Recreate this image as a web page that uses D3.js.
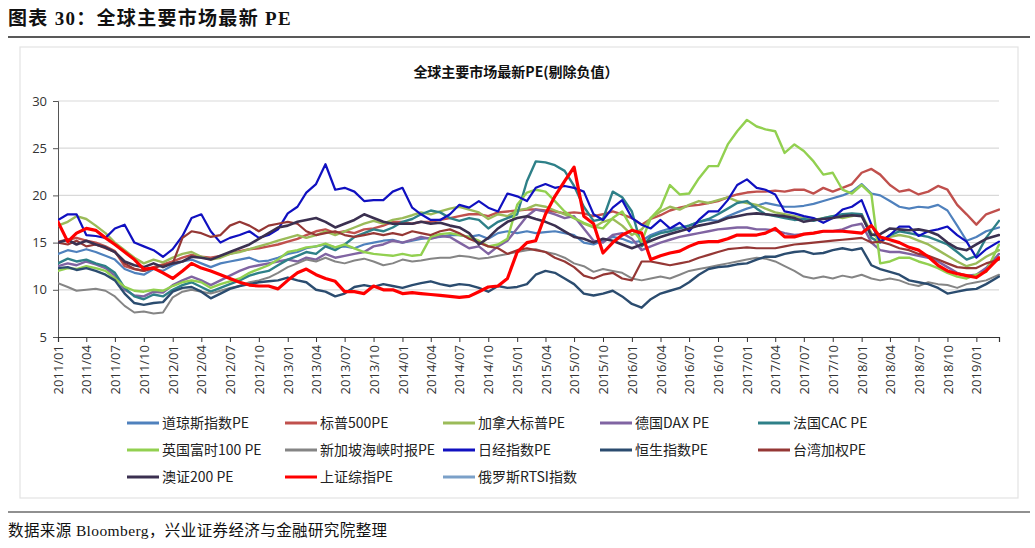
<!DOCTYPE html>
<html><head><meta charset="utf-8">
<script src="https://cdn.jsdelivr.net/npm/d3@7"></script>
<style>body{margin:0;background:#fff;} svg{display:block}</style>
</head><body><svg id="c" width="1035" height="548"></svg>
<script>
// ---------- DATA ----------
const startDate = new Date(2011, 0, 1);
const lastDate = new Date(2019, 2, 14);
const dates = d3.timeMonth.range(startDate, new Date(2019, 2, 1)).concat([lastDate]);
const yTicks = [5, 10, 15, 20, 25, 30];

const seriesNames = ["道琼斯指数PE","标普500PE","加拿大标普PE","德国DAX PE","法国CAC PE",
  "英国富时100 PE","新加坡海峡时报PE","日经指数PE","恒生指数PE","台湾加权PE",
  "澳证200 PE","上证综指PE","俄罗斯RTSI指数"];

const dow = [
13.8,14.2,14.0,14.3,14.0,13.6,13.2,12.2,11.8,11.6,12.2,12.0,
12.6,13.0,13.2,12.8,12.4,12.8,13.0,13.2,13.4,13.0,13.1,13.4,
13.8,14.0,14.4,14.6,14.8,14.5,14.6,14.4,14.8,15.0,15.2,15.3,
15.0,15.2,15.4,15.5,15.6,15.8,15.8,15.6,15.8,15.4,16.0,16.2,
16.0,16.2,16.0,16.1,16.2,16.0,15.8,15.0,14.8,15.2,15.6,15.4,
15.0,15.2,15.8,16.2,16.5,16.6,16.8,17.2,17.4,17.3,17.8,18.2,
18.6,18.9,19.2,19.0,18.8,18.8,18.9,19.1,19.4,19.7,20.0,20.4,
21.2,20.2,20.0,19.4,18.8,18.6,18.8,18.7,19.0,18.4,16.8,15.2,
15.6,16.2,16.6];
const spx = [
15.1,15.3,15.5,15.2,15.0,14.6,14.1,12.5,12.2,12.0,12.4,12.7,
13.0,13.4,13.7,13.5,13.4,13.6,13.8,14.1,14.3,14.4,14.6,14.8,
15.1,15.4,15.8,16.2,16.4,16.0,16.2,16.0,16.4,16.5,16.8,17.2,
17.2,17.0,17.2,17.2,17.4,17.6,17.8,18.0,18.0,17.8,18.2,18.3,
18.4,18.5,18.5,18.4,18.3,18.1,18.2,18.1,17.8,18.0,18.3,18.0,
17.6,16.9,17.5,17.9,18.4,18.7,18.9,19.0,19.2,19.4,19.8,20.1,
20.3,20.4,20.4,20.5,20.4,20.6,20.6,20.2,20.8,20.4,20.8,21.2,
22.4,22.8,22.2,21.1,20.4,20.6,20.1,20.4,21.0,20.6,19.0,18.0,
16.9,18.0,18.5];
const canada = [
16.8,17.2,17.8,17.5,16.8,16.0,15.0,14.2,13.4,12.8,13.2,12.9,
13.4,13.8,14.0,13.5,13.2,13.4,13.8,14.0,14.3,14.6,14.9,15.2,
15.5,15.8,15.5,15.8,16.2,15.8,16.2,16.6,17.0,17.3,17.0,17.4,
17.6,17.9,18.2,18.0,18.3,18.6,18.8,18.5,18.2,17.5,18.0,17.8,
18.4,18.6,19.0,18.8,18.4,18.0,17.6,17.0,16.6,17.2,17.5,16.8,
15.8,16.4,17.6,18.3,18.8,18.5,19.0,19.4,19.2,19.5,19.8,19.4,
19.2,19.0,18.6,18.2,18.0,17.8,17.6,17.4,17.6,17.8,17.6,17.8,
18.0,16.0,15.3,15.6,15.8,15.6,15.2,14.8,14.2,13.6,13.0,12.5,
12.8,13.5,14.2];
const dax = [
12.5,12.8,12.6,13.0,12.7,12.3,11.5,10.0,9.4,9.3,9.8,9.7,
10.5,11.0,11.4,11.0,10.5,11.0,11.5,12.0,12.4,12.6,12.8,13.0,
13.2,13.0,13.4,13.2,13.8,13.4,13.6,13.8,14.0,14.6,14.8,15.2,
15.0,15.3,15.6,15.4,15.7,15.6,15.0,14.4,14.6,13.8,14.6,15.2,
16.5,17.8,18.5,18.3,18.0,17.6,17.8,16.5,15.2,15.0,15.8,16.0,
15.4,14.2,14.6,15.0,15.3,15.6,15.8,16.0,16.2,16.4,16.5,16.6,
16.6,16.4,16.4,16.3,16.0,15.8,15.9,16.0,16.2,16.2,16.4,16.8,
17.0,15.0,14.2,14.0,14.0,13.8,13.6,13.4,13.0,12.4,11.8,11.5,
11.6,12.3,13.8];
const cac = [
12.8,13.3,13.0,13.2,12.8,12.5,11.8,10.2,9.3,9.0,9.5,9.3,
10.0,10.5,10.8,10.3,9.8,10.2,10.6,11.0,11.5,11.8,12.0,12.6,
13.2,13.6,14.0,13.8,14.6,14.2,14.8,15.6,16.0,16.4,16.2,16.6,
17.2,17.5,18.0,18.4,18.2,17.6,17.3,17.6,17.4,16.5,17.2,17.6,
18.0,21.5,23.6,23.5,23.2,22.6,21.0,18.8,17.3,17.5,20.4,19.8,
18.3,14.6,15.6,16.0,16.2,16.5,16.8,17.2,17.5,18.0,18.6,19.2,
19.4,18.6,18.0,17.8,17.6,17.4,17.5,17.3,17.6,17.8,18.0,18.1,
18.0,15.5,15.0,15.8,16.2,16.0,15.8,15.6,15.2,14.8,14.0,13.2,
13.6,15.5,17.3];
const ftse = [
12.0,12.3,12.2,12.5,12.3,12.0,11.2,10.3,9.9,9.8,10.0,9.9,
10.4,10.8,11.0,10.8,10.2,10.6,10.9,11.2,11.8,12.2,12.6,13.2,
14.0,14.2,14.5,14.6,14.9,14.5,14.8,14.4,14.0,13.8,13.7,13.6,
13.8,13.6,13.7,15.6,15.9,16.0,15.8,15.6,15.2,14.6,14.8,15.4,
19.0,20.3,20.6,20.4,19.4,18.3,17.6,17.1,16.7,16.5,17.6,18.3,
16.5,15.1,17.6,18.7,21.1,20.1,20.2,21.8,23.1,23.1,25.4,26.8,
28.0,27.3,27.0,26.8,24.5,25.4,24.7,23.6,22.2,22.4,20.6,20.2,
21.1,20.1,12.8,13.0,13.4,13.4,13.0,12.7,12.3,11.8,11.4,11.2,
11.6,11.9,14.8];
const sti = [
10.7,10.3,9.9,10.0,10.1,9.9,9.3,8.3,7.6,7.7,7.5,7.6,
9.2,9.8,10.0,9.8,9.6,9.9,10.2,10.4,10.8,11.0,11.3,11.8,
12.4,12.8,13.2,13.0,13.4,13.0,12.8,13.1,13.3,13.0,12.6,12.8,
13.2,13.0,13.1,13.3,13.4,13.4,13.6,13.5,13.3,13.4,13.6,13.8,
14.0,14.2,14.3,14.0,13.8,13.4,12.8,12.5,11.9,12.2,12.0,11.8,
11.2,11.0,11.2,11.4,11.2,11.6,12.0,12.2,12.4,12.6,12.8,13.0,
13.2,13.4,13.3,13.0,12.5,12.0,11.4,11.2,11.4,11.2,11.5,11.3,
11.6,11.2,11.0,11.2,11.0,10.6,10.4,10.8,10.6,10.5,10.2,10.6,
10.8,11.0,11.6];
const nikkei = [
17.4,18.0,18.0,15.8,15.7,15.5,16.5,16.9,15.0,14.6,14.2,13.5,
14.3,15.7,17.6,18.0,16.2,15.0,15.5,15.8,16.2,15.5,15.8,16.4,
18.1,18.8,20.3,21.2,23.3,20.6,20.8,20.4,19.4,19.5,19.5,20.4,
20.8,18.7,18.0,17.4,17.4,18.0,19.0,18.7,19.4,18.7,18.3,20.2,
19.9,19.4,20.8,21.2,20.8,21.0,20.8,20.4,18.0,17.4,18.7,19.5,
17.6,16.9,16.5,17.4,16.5,17.1,16.2,17.4,18.3,18.3,19.5,21.1,
21.7,20.8,20.6,20.1,18.3,18.1,17.8,17.6,17.1,17.6,18.5,18.8,
19.5,16.9,15.1,15.8,16.7,16.7,15.7,16.2,16.4,16.7,15.8,15.1,
13.4,14.3,15.1];
const hsi = [
12.3,12.4,12.1,12.3,12.0,11.6,11.0,9.6,8.6,8.4,8.6,8.7,
9.8,10.2,10.3,9.8,9.1,9.6,10.1,10.4,10.6,10.8,10.9,11.0,
11.3,11.0,10.8,10.0,9.8,9.3,9.6,10.3,10.5,10.3,10.6,10.4,
10.2,10.5,10.7,10.9,10.6,10.4,10.6,10.5,10.2,9.8,10.4,10.2,
10.3,10.6,11.6,12.0,11.8,11.2,10.6,9.6,9.4,9.6,9.9,9.3,
8.5,8.1,9.0,9.6,9.9,10.2,10.8,11.6,12.2,12.4,12.5,12.7,
12.8,13.2,13.5,13.5,13.8,14.0,14.1,13.8,13.9,14.2,14.4,14.2,
14.4,12.6,12.2,11.9,11.6,11.0,10.8,10.6,10.2,9.6,9.8,10.0,
10.1,10.6,11.4];
const taiwan = [
15.0,14.8,15.2,14.6,14.8,14.4,14.0,12.8,12.2,12.0,12.3,12.6,
12.8,15.5,16.2,16.0,15.6,15.8,16.8,17.2,16.8,16.2,16.8,17.0,
17.2,17.0,16.2,15.8,16.0,16.2,15.8,15.6,15.8,16.0,15.8,16.0,
15.8,16.2,16.0,15.8,16.2,16.4,16.0,15.4,15.0,14.6,14.4,13.8,
14.2,14.4,14.2,14.0,13.4,13.0,12.4,11.5,11.2,11.6,11.8,11.2,
11.0,13.0,13.0,12.8,12.6,12.8,13.0,13.4,13.7,14.0,14.3,14.4,
14.5,14.4,14.4,14.4,14.6,14.8,14.9,15.0,15.1,15.2,15.3,15.4,
15.5,15.0,15.1,14.8,14.4,14.2,13.8,13.6,13.2,12.8,12.4,12.3,
12.3,12.8,13.2];
const asx = [
15.0,15.3,14.8,15.2,14.8,14.5,14.0,13.0,12.6,12.4,12.8,12.4,
12.8,13.0,13.5,13.4,13.2,13.6,14.0,14.4,14.8,15.4,16.0,16.6,
16.8,17.2,17.4,17.6,17.2,16.6,17.0,17.4,18.0,17.6,17.2,17.0,
17.0,17.0,17.2,17.0,17.1,16.8,16.6,16.0,14.8,15.5,16.5,17.2,
17.6,17.8,17.5,17.2,16.8,16.2,15.6,15.4,15.0,15.4,15.2,14.8,
14.4,14.8,15.2,15.6,15.9,16.2,16.5,16.8,17.0,17.2,17.6,17.8,
18.0,18.1,18.0,17.9,17.8,17.6,17.2,17.4,17.5,17.6,17.8,17.9,
17.8,15.8,15.9,16.5,16.4,16.3,16.4,16.2,15.8,15.0,14.4,14.2,
14.8,15.4,15.8];
const shcomp = [
17.2,15.1,16.0,16.5,16.3,15.5,14.8,14.0,13.2,12.2,12.3,11.8,
11.2,12.0,12.8,12.3,12.0,11.6,11.2,10.8,10.5,10.4,10.4,10.1,
11.0,11.8,12.2,11.6,11.2,10.9,9.8,9.8,9.6,10.4,10.0,10.0,
9.6,9.7,9.6,9.5,9.4,9.3,9.2,9.3,9.8,10.3,10.4,11.2,
14.0,15.0,15.2,18.0,19.9,21.5,23.0,17.8,17.0,13.9,15.0,15.8,
16.3,16.0,13.2,13.6,13.9,14.1,14.6,15.0,15.1,15.1,15.4,15.8,
15.8,15.8,16.0,16.5,15.6,15.6,15.9,16.0,16.2,16.2,16.2,16.1,
16.0,16.8,15.6,15.3,15.0,14.5,14.2,13.5,12.6,12.0,11.7,11.5,
11.3,12.0,13.4];
const rtsi = [];

const seriesValues = [dow, spx, canada, dax, cac, ftse, sti, nikkei, hsi, taiwan, asx, shcomp, rtsi];

// ---------- STYLE ----------
const colors = ["#4F81BD","#C0504D","#9BBB59","#8064A2","#2E8088","#92D050","#858585",
  "#1010C0","#2B4C6F","#953735","#3B3050","#FF0000","#7BA0C8"];
const widths = [2.2,2.4,2.4,2.4,2.4,2.4,2,2.2,2.4,2.2,2.6,3.2,2.2];

const svg = d3.select("#c");
const plot = {l: 58, r: 999, t: 101, b: 337};
const cjk = '"Noto Sans CJK SC", "Noto Sans", sans-serif';
const serif = '"Liberation Serif", "Noto Sans CJK SC", serif';

// header
svg.append("text").attr("x", 8).attr("y", 25)
  .attr("font-family", serif).attr("font-size", 19).attr("font-weight", "bold")
  .attr("letter-spacing", 1.3).attr("fill", "#111")
  .text("图表 30：全球主要市场最新 PE");
svg.append("line").attr("x1", 8).attr("x2", 1030).attr("y1", 37).attr("y2", 37)
  .attr("stroke", "#222").attr("stroke-width", 1.3);

// chart frame
svg.append("rect").attr("x", 20).attr("y", 47).attr("width", 998).attr("height", 451)
  .attr("fill", "#fff").attr("stroke", "#e3e3e3").attr("stroke-width", 1.2);

svg.append("text").attr("x", 516).attr("y", 77).attr("text-anchor", "middle")
  .attr("font-family", cjk).attr("font-size", 14).attr("font-weight", "bold").attr("fill", "#111")
  .text("全球主要市场最新PE(剔除负值）");

// scales
const x = d3.scaleTime().domain([startDate, lastDate]).range([plot.l, plot.r]);
const y = d3.scaleLinear().domain([5, 30]).range([plot.b, plot.t]);

// grid
svg.append("g").selectAll("line").data(yTicks.filter(v => v > 5)).join("line")
  .attr("x1", plot.l).attr("x2", plot.r).attr("y1", d => y(d)).attr("y2", d => y(d))
  .attr("stroke", "#d9d9d9").attr("stroke-width", 1.2);

// y axis
const yAxis = svg.append("g").attr("transform", `translate(${plot.l},0)`)
  .call(d3.axisLeft(y).tickValues(yTicks).tickSize(5).tickPadding(6));
yAxis.select(".domain").attr("stroke", "#555");
yAxis.selectAll(".tick line").attr("stroke", "#555");
yAxis.selectAll("text").attr("font-family", '"Open Sans", sans-serif').attr("font-size", 13).attr("fill", "#333");

// x axis
const xTicks = d3.timeMonth.every(3).range(startDate, new Date(2019, 0, 2));
const xAxis = svg.append("g").attr("transform", `translate(0,${plot.b})`)
  .call(d3.axisBottom(x).tickValues(xTicks).tickSize(5).tickFormat(d3.timeFormat("%Y/%m")));
xAxis.select(".domain").attr("stroke", "#333").attr("stroke-width", 1.2);
xAxis.selectAll(".tick line").attr("stroke", "#333");
xAxis.selectAll("text")
  .attr("font-family", '"Open Sans", sans-serif').attr("font-size", 13).attr("fill", "#333")
  .attr("text-anchor", "end").attr("transform", "rotate(-90)")
  .attr("x", -8).attr("y", 0).attr("dy", "0.35em");

// lines
svg.append("clipPath").attr("id", "clip").append("rect")
  .attr("x", plot.l).attr("y", plot.t - 2).attr("width", plot.r - plot.l + 1).attr("height", plot.b - plot.t + 2);
const line = d3.line().x(d => x(d.date)).y(d => y(d.v));
const lg = svg.append("g").attr("clip-path", "url(#clip)");
seriesValues.forEach((vals, i) => {
  if (!vals.length) return;
  const pts = vals.map((v, j) => ({date: dates[j], v}));
  lg.append("path").attr("d", line(pts)).attr("fill", "none")
    .attr("stroke", colors[i]).attr("stroke-width", widths[i])
    .attr("stroke-linejoin", "round").attr("stroke-linecap", "round");
});

// legend
const colX = [127, 285, 443, 600, 758];
const rowY = [423, 450, 477];
const leg = svg.append("g");
seriesNames.forEach((name, i) => {
  const cx = colX[i % 5], cy = rowY[Math.floor(i / 5)];
  leg.append("line").attr("x1", cx).attr("x2", cx + 32).attr("y1", cy).attr("y2", cy)
    .attr("stroke", colors[i]).attr("stroke-width", 3);
  leg.append("text").attr("x", cx + 35).attr("y", cy).attr("dy", "0.36em")
    .attr("font-family", cjk).attr("font-size", 14).attr("fill", "#222").text(name);
});

// footer
svg.append("line").attr("x1", 8).attr("x2", 1030).attr("y1", 512).attr("y2", 512)
  .attr("stroke", "#222").attr("stroke-width", 1.2);
svg.append("text").attr("x", 8).attr("y", 536)
  .attr("font-family", serif).attr("font-size", 15.5).attr("letter-spacing", 0.4).attr("fill", "#111")
  .text("数据来源 Bloomberg，兴业证券经济与金融研究院整理");
</script>
</body></html>
